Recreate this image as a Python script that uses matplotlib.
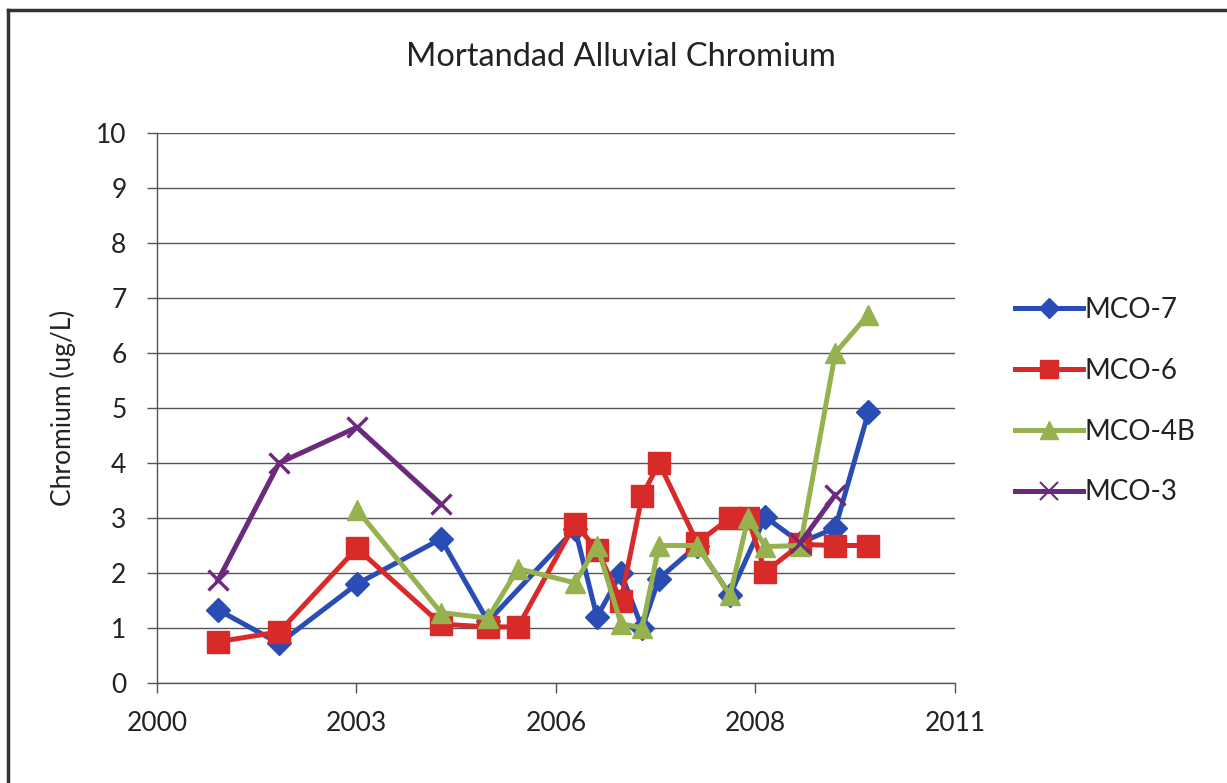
import numpy as np
import matplotlib
matplotlib.use("Agg")
import matplotlib.pyplot as plt
import matplotlib.dates as mdates
from matplotlib.lines import Line2D
import datetime as dt

plt.rcParams['font.family'] = ['Lato', 'DejaVu Sans']

title = "Mortandad Alluvial Chromium"
ylabel = "Chromium (ug/L)"

# Sample dates
mco7_dates = ["2001-08-04", "2002-06-06", "2003-07-01", "2004-08-25", "2005-04-18",
              "2006-06-28", "2006-10-16", "2007-02-13", "2007-05-30", "2007-08-23",
              "2008-03-01", "2008-08-13", "2009-02-05", "2009-07-31", "2010-01-22",
              "2010-07-07"]
mco7_vals = [1.33, 0.72, 1.8, 2.62, 1.12, 2.8, 1.2, 2.0, 1.0, 1.9, 2.5, 1.6, 3.02,
             2.55, 2.82, 4.92]

mco6_dates = ["2001-08-04", "2002-06-06", "2003-07-01", "2004-08-25", "2005-04-18",
              "2005-09-15", "2006-06-28", "2006-10-16", "2007-02-13", "2007-05-30",
              "2007-08-23", "2008-03-01", "2008-08-13", "2008-11-11", "2009-02-05",
              "2009-07-31", "2010-01-22", "2010-07-07"]
mco6_vals = [0.75, 0.93, 2.45, 1.07, 1.02, 1.02, 2.9, 2.42, 1.5, 3.4, 4.0, 2.55, 3.0,
             3.0, 2.02, 2.52, 2.5, 2.5]

mco4b_dates = ["2003-07-01", "2004-08-25", "2005-04-18", "2005-09-15", "2006-06-28",
               "2006-10-16", "2007-02-13", "2007-05-30", "2007-08-23", "2008-03-01",
               "2008-08-13", "2008-11-11", "2009-02-05", "2009-07-31", "2010-01-22",
               "2010-07-07"]
mco4b_vals = [3.15, 1.28, 1.18, 2.08, 1.82, 2.5, 1.08, 1.0, 2.5, 2.5, 1.6, 3.0, 2.48,
              2.5, 6.0, 6.7]

mco3_dates = ["2001-08-04", "2002-06-06", "2003-07-01", "2004-08-25", "2007-01-01",
              "2009-07-31", "2010-01-22"]
mco3_vals = [1.87, 4.0, 4.65, 3.25, np.nan, 2.55, 3.42]

x_ticks = ["2000-10-02", "2003-06-28", "2006-03-24", "2008-12-18", "2011-09-14"]
y_ticks = list(range(0, 11))


def to_dates(lst):
    return [dt.datetime.strptime(s, "%Y-%m-%d") for s in lst]


fig = plt.figure(figsize=(12.27, 7.83), dpi=100)
ax = fig.add_axes([157/1227, 1-683/783, (955-157)/1227, (683-133)/783])

series = [
    ("MCO-7", mco7_dates, mco7_vals, '#2a4db5', 'D', 12, '#2a4db5'),
    ("MCO-6", mco6_dates, mco6_vals, '#d92a2a', 's', 16, '#d92a2a'),
    ("MCO-4B", mco4b_dates, mco4b_vals, '#95b24e', '^', 15, '#95b24e'),
    ("MCO-3", mco3_dates, mco3_vals, '#6b2a7c', 'x', 15, '#6b2a7c'),
]

handles = []
for name, ds, vs, c, m, ms, mc in series:
    ax.plot(to_dates(ds), vs, color=c, lw=3.6, marker=m, ms=ms, mfc=mc, mec=mc,
            mew=2.4 if m == 'x' else 1, zorder=3)
    handles.append(Line2D([0], [0], color=c, lw=3.6, marker=m, ms=ms * 0.85, mfc=mc,
                          mec=mc, mew=1.5 if m == 'x' else 1))

xt = mdates.date2num(to_dates(x_ticks))
ax.set_xlim(xt[0], xt[-1])
ax.set_xticks(xt)
ax.xaxis.set_major_formatter(mdates.DateFormatter('%Y'))
ax.set_ylim(0, 10)
ax.set_yticks(y_ticks)

ax.grid(axis='y', color='#555555', lw=1.0)
ax.set_axisbelow(True)
for s in ['top', 'right']:
    ax.spines[s].set_visible(False)
for s in ['left', 'bottom']:
    ax.spines[s].set_color('#555555')
    ax.spines[s].set_linewidth(1.0)
ax.tick_params(axis='both', colors='#555555', labelcolor='#222222', labelsize=19,
               length=7, width=1.0)
ax.tick_params(axis='x', pad=13)
ax.tick_params(axis='y', pad=15)

ax.set_ylabel(ylabel, fontsize=19, color='#222222', labelpad=14)
fig.text(621/1227, 1-57/783, title, ha='center', va='center', fontsize=23.5,
         color='#222222')

leg = fig.legend(handles, [s[0] for s in series], loc='upper left',
                 bbox_to_anchor=(1004/1227, 1-286/783), frameon=False,
                 fontsize=20, handlelength=2.45, labelspacing=1.25,
                 handletextpad=0.05, borderaxespad=0)
for t in leg.get_texts():
    t.set_color('#222222')

# Figure frame
fig.add_artist(Line2D([8/1227, 8/1227], [0, 1-10/783], color='#333333', lw=2.5,
                      transform=fig.transFigure))
fig.add_artist(Line2D([8/1227, 1], [1-10/783, 1-10/783], color='#333333', lw=2.5,
                      transform=fig.transFigure))

fig.savefig("out.png", dpi=100)
